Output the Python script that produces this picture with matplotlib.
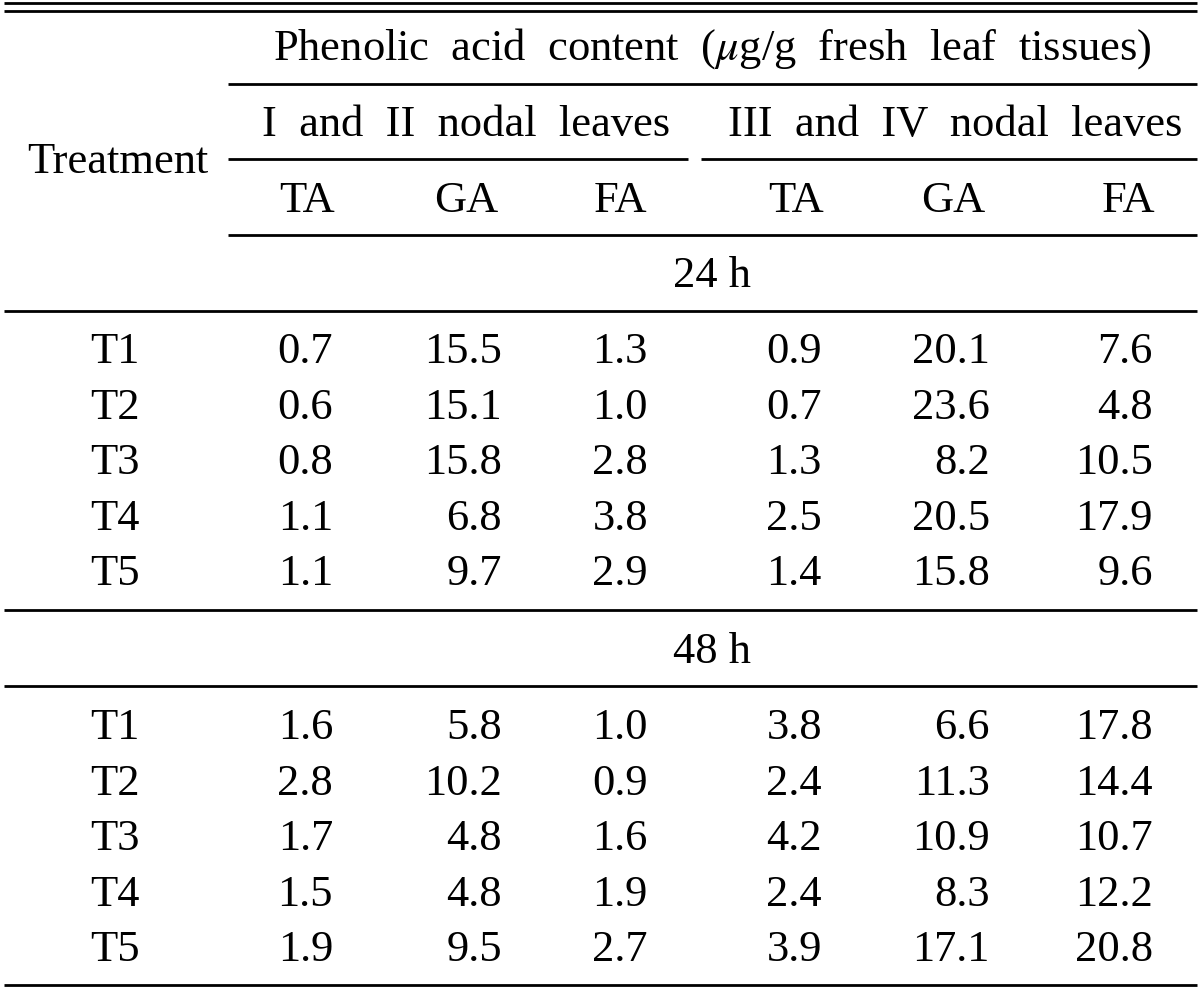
import matplotlib.pyplot as plt

# table content
treatments = ['T1', 'T2', 'T3', 'T4', 'T5']
periods = ['24 h', '48 h']
acids = ['TA', 'GA', 'FA', 'TA', 'GA', 'FA']
leaf_groups = ['I  and  II  nodal  leaves', 'III  and  IV  nodal  leaves']
title = r'Phenolic  acid  content  ($\mu$g/g  fresh  leaf  tissues)'

# columns: TA, GA, FA (I+II nodal), TA, GA, FA (III+IV nodal)
vals_24h = [
    [0.7, 15.5, 1.3, 0.9, 20.1, 7.6],
    [0.6, 15.1, 1.0, 0.7, 23.6, 4.8],
    [0.8, 15.8, 2.8, 1.3, 8.2, 10.5],
    [1.1, 6.8, 3.8, 2.5, 20.5, 17.9],
    [1.1, 9.7, 2.9, 1.4, 15.8, 9.6],
]
vals_48h = [
    [1.6, 5.8, 1.0, 3.8, 6.6, 17.8],
    [2.8, 10.2, 0.9, 2.4, 11.3, 14.4],
    [1.7, 4.8, 1.6, 4.2, 10.9, 10.7],
    [1.5, 4.8, 1.9, 2.4, 8.3, 12.2],
    [1.9, 9.5, 2.7, 3.9, 17.1, 20.8],
]

plt.rcParams['font.family'] = 'Liberation Serif'
plt.rcParams['mathtext.fontset'] = 'stix'

fig = plt.figure(figsize=(12, 9.88), dpi=100)
ax = fig.add_axes([0, 0, 1, 1])
ax.set_xlim(0, 1200)
ax.set_ylim(988, 0)
ax.axis('off')

fs = 32
cap = 15  # half cap height in px, to put text baselines
lw = 2.0

def txt(x, y, s, ha='center'):
    ax.text(x, y + cap, s, ha=ha, va='baseline', fontsize=fs, color='black')

def hline(y, x0=4, x1=1197, w=lw):
    ax.plot([x0, x1], [y, y], color='black', lw=w, solid_capstyle='butt')

# rules
hline(3)
hline(11)
hline(84, 228)
hline(159, 228, 688)
hline(159, 701)
hline(235, 228)
hline(311)
hline(610)
hline(686)
hline(985)

# header
txt(712, 45, title)
txt(466, 121, leaf_groups[0])
txt(955, 121, leaf_groups[1])
txt(118, 158, 'Treatment')
acid_x = [307, 466, 620, 796, 953, 1128]
for x, a in zip(acid_x, acids):
    txt(x, 197, a)

# body
right_x = [333, 502, 648, 822, 990, 1153]
blocks = [(272, 348, vals_24h), (648, 724, vals_48h)]
for (py, y0, vals), p in zip(blocks, periods):
    txt(712, py, p)
    for i, (t, row) in enumerate(zip(treatments, vals)):
        y = y0 + 55.5 * i
        txt(115, y, t)
        for x, v in zip(right_x, row):
            txt(x, y, f'{v:.1f}', ha='right')

fig.savefig('out.png', dpi=100)
